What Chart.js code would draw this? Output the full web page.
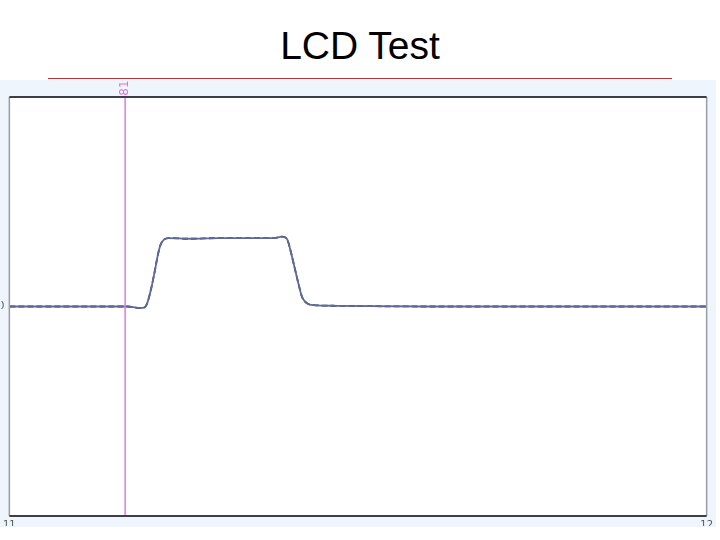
<!DOCTYPE html>
<html>
<head>
<meta charset="utf-8">
<script src="https://cdn.jsdelivr.net/npm/chart.js@4/dist/chart.umd.min.js"></script>
<style>
   body { margin: 0; width: 720px; height: 540px; background: #fff; position: relative; overflow: hidden; }
   #title { position: absolute; top: 24px; left: 0; width: 720px; text-align: center;
            font-family: "Liberation Sans", Arial, sans-serif; font-size: 39px; color: #000; }
   #rule { position: absolute; top: 78px; left: 48px; width: 624px; height: 1px; background: #c0303a; }
   #panel { position: absolute; top: 80px; left: 0; width: 716px; height: 447px; background: #eff5fc; }
</style>
</head>
<body>
<div id="title">LCD Test</div>
<div id="rule"></div>
<div id="panel"><canvas id="scopeChart" width="716" height="447"></canvas></div>
<script>
/* -----------------------------------------------------------------------
   데이터
   ------------------------------------------------------------------------*/
const traceX = [11.0, 11.10, 11.17, 11.185, 11.192, 11.197, 11.203, 11.209, 11.213, 11.217, 11.222, 11.228,
                11.26, 11.30, 11.34, 11.38, 11.391, 11.398, 11.403, 11.409, 11.415, 11.420, 11.428, 11.436,
                11.47, 11.6, 11.8, 12.0];
const traceY = [0.0, 0.0, 0.0, -0.02, -0.02, 0.03, 0.24, 0.53, 0.74, 0.89, 0.96, 0.98,
                0.97, 0.98, 0.98, 0.98, 1.0, 0.97, 0.81, 0.56, 0.31, 0.13, 0.04, 0.02,
                0.01, 0.0, 0.0, 0.0];
const cursorX = 11.166;
const cursorLabel = "81";
const xTicks = [11, 12];
const yTicks = [0];

const tracePts = traceX.map((x, i) => ({x: x, y: traceY[i]}));

/* -----------------------------------------------------------------------
   프레임 + 커서 라벨
   ------------------------------------------------------------------------*/
const framePlugin = {
   id: 'frame',
   beforeDatasetsDraw: function(chart) {
      const a = chart.chartArea;
      const ctx = chart.ctx;
      ctx.save();
      ctx.fillStyle = '#ffffff';
      ctx.fillRect(a.left, a.top, a.right - a.left, a.bottom - a.top);
      ctx.restore();
   },
   afterDraw: function(chart) {
      const a = chart.chartArea;
      const ctx = chart.ctx;
      ctx.save();
      ctx.lineWidth = 1.5;
      ctx.strokeStyle = '#9a9ca2';
      ctx.beginPath();
      ctx.moveTo(a.left, a.top); ctx.lineTo(a.left, a.bottom);
      ctx.moveTo(a.right, a.top); ctx.lineTo(a.right, a.bottom);
      ctx.stroke();
      ctx.lineWidth = 2;
      ctx.strokeStyle = '#3c3f48';
      ctx.beginPath();
      ctx.moveTo(a.left, a.top); ctx.lineTo(a.right, a.top);
      ctx.moveTo(a.left, a.bottom); ctx.lineTo(a.right, a.bottom);
      ctx.stroke();
      // cursor label
      const px = chart.scales.x.getPixelForValue(cursorX);
      ctx.translate(px, a.top - 9);
      ctx.rotate(-Math.PI / 2);
      ctx.fillStyle = '#e070e0';
      ctx.font = '12px "DejaVu Sans", sans-serif';
      ctx.textAlign = 'center';
      ctx.textBaseline = 'middle';
      ctx.fillText(cursorLabel, 0, 0);
      ctx.restore();
   }
};

const config = {
   type: 'line',
   data: {
      datasets: [
         {
            label: 'cursor',
            data: [{x: cursorX, y: -3}, {x: cursorX, y: 3}],
            borderColor: '#e07ae6',
            borderWidth: 1.5,
            pointRadius: 0,
         },
         {
            label: 'trace',
            data: tracePts,
            borderColor: '#5f6a98',
            borderWidth: 1.8,
            pointRadius: 0,
            cubicInterpolationMode: 'monotone',
         },
         {
            label: 'trace dash',
            data: tracePts,
            borderColor: '#27305c',
            borderWidth: 1.8,
            borderDash: [6, 3],
            pointRadius: 0,
            cubicInterpolationMode: 'monotone',
         }
      ]
   },
   options: {
      responsive: false,
      animation: false,
      layout: {
         padding: {top: 17, right: 4, bottom: 0, left: 0}
      },
      scales: {
         x: {
            type: 'linear',
            min: 11,
            max: 12,
            afterBuildTicks: function(scale) { scale.ticks = xTicks.map(v => ({value: v})); },
            afterFit: function(scale) { scale.height = 10; },
            grid: {display: false, drawTicks: false},
            border: {display: false},
            ticks: {
               padding: 3,
               maxRotation: 0,
               autoSkip: false,
               color: '#555',
               font: {size: 10, family: '"DejaVu Sans", sans-serif'},
            }
         },
         y: {
            type: 'linear',
            min: -3,
            max: 3,
            afterBuildTicks: function(scale) { scale.ticks = yTicks.map(v => ({value: v})); },
            afterFit: function(scale) { scale.width = 8; },
            grid: {display: false, drawTicks: false},
            border: {display: false},
            ticks: {
               padding: 5,
               color: '#555',
               font: {size: 10, family: '"DejaVu Sans", sans-serif'},
            }
         }
      },
      plugins: {
         legend: {display: false},
         tooltip: {enabled: false},
      }
   },
   plugins: [framePlugin]
};
new Chart(document.getElementById('scopeChart'), config);
</script>
</body>
</html>
